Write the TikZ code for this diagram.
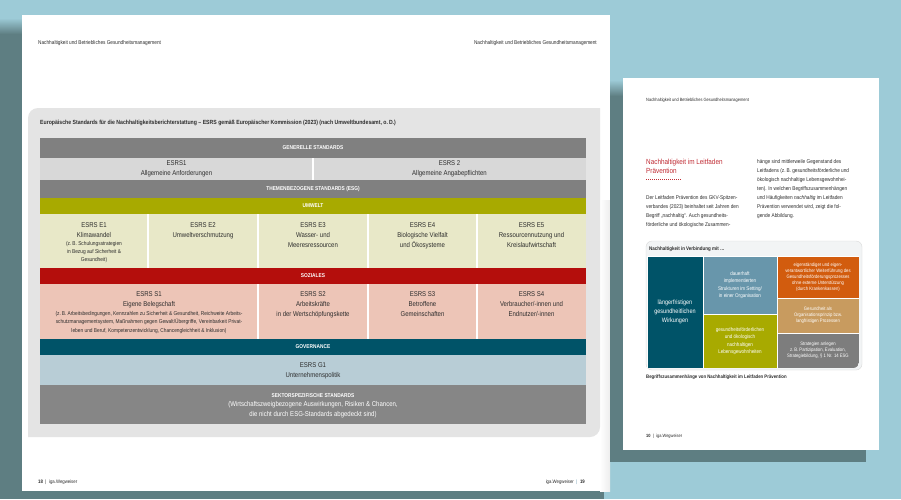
\documentclass[tikz,border=0pt]{standalone}
\usepackage{fontspec}
\setmainfont{Liberation Sans}[FakeStretch=0.86]
\usepackage{tikz}
\usetikzlibrary{positioning}
\definecolor{BgBlue}{RGB}{157,203,215}
\definecolor{ShadowTeal}{RGB}{94,126,130}
\definecolor{PanelGray}{RGB}{228,228,228}
\definecolor{BarGray}{RGB}{128,128,128}
\definecolor{RowGray}{RGB}{216,216,216}
\definecolor{Olive}{RGB}{168,170,0}
\definecolor{Cream}{RGB}{232,232,200}
\definecolor{DarkRed}{RGB}{180,14,12}
\definecolor{Salmon}{RGB}{237,197,183}
\definecolor{Petrol}{RGB}{0,83,104}
\definecolor{PaleBlue}{RGB}{184,205,214}
\definecolor{SectorGray}{RGB}{134,134,134}
\definecolor{TextGray}{RGB}{45,45,45}
\definecolor{SteelBlue}{RGB}{104,150,171}
\definecolor{Orange}{RGB}{210,92,14}
\definecolor{Tan}{RGB}{200,155,95}
\definecolor{MidGray}{RGB}{125,125,125}
\definecolor{HeadRed}{RGB}{192,44,52}
\definecolor{FigPanel}{RGB}{242,244,245}

\begin{document}
\begin{tikzpicture}[x=1pt,y=-1pt,
	cell/.style n args={2}{anchor=north west,inner sep=0pt,outer sep=0pt,minimum width=#1pt,minimum height=#2pt},
	bartext/.style={text=white,font=\bfseries\fontsize{5.6}{7}\selectfont},
	celltext/.style={anchor=north,align=center,inner sep=0pt,text=TextGray,font=\fontsize{7}{10}\selectfont},
	smalltext/.style={celltext,font=\fontsize{5.6}{8.3}\selectfont},
	divider/.style={white,line width=1.6pt},
	figtext/.style={align=center,text=white,font=\fontsize{5.3}{7.4}\selectfont},
	tinytext/.style={align=center,text=white,font=\fontsize{4.9}{6}\selectfont},
	pagetext/.style={anchor=west,inner sep=0pt,text=TextGray,font=\fontsize{5.5}{7}\selectfont}]

		\useasboundingbox (0,0) rectangle (901,499);

		% background, shadows and pages
		\fill[BgBlue] (0,0) rectangle (901,499);
		\shade[top color=BgBlue,bottom color=ShadowTeal] (0,18) rectangle (22,34);
		\fill[ShadowTeal] (0,34) rectangle (604,499);
		\fill[white] (22,15) rectangle (610,491);
		\shade[left color=white,right color=black!7] (600,200) rectangle (610,491);
		\shade[top color=BgBlue,bottom color=ShadowTeal] (610,80) rectangle (623,96);
		\fill[ShadowTeal] (610,96) rectangle (866,462);
		\fill[white] (623,78) rectangle (879,450);

		% page headers
		\node[pagetext] (headL) at (38,43) {Nachhaltigkeit und Betriebliches Gesundheitsmanagement};
		\node[pagetext,anchor=east] (headR) at (597,43) {Nachhaltigkeit und Betriebliches Gesundheitsmanagement};

		% gray panel and title
		\fill[PanelGray] (28,437) [rounded corners=10pt] -- (28,108) [sharp corners] -- (600,108) [rounded corners=10pt] -- (600,437) [sharp corners] -- cycle;
		\node[pagetext,font=\bfseries\fontsize{6}{7}\selectfont] (title) at (40,123) {Europäische Standards für die Nachhaltigkeitsberichterstattung – ESRS gemäß Europäischer Kommission (2023) (nach Umweltbundesamt, o.\,D.)};

		% general standards
		\node[cell={546}{20},fill=BarGray,bartext] (gen) at (40,138) {GENERELLE STANDARDS};
		\node[cell={273}{22},fill=RowGray,align=center,text=TextGray,font=\fontsize{7}{10}\selectfont] (esrs1) at (gen.south west) {ESRS1\\Allgemeine Anforderungen};
		\node[cell={273}{22},fill=RowGray,align=center,text=TextGray,font=\fontsize{7}{10}\selectfont] (esrs2) at (esrs1.north east) {ESRS 2\\Allgemeine Angabepflichten};
		\node[cell={546}{18},fill=BarGray,bartext] (themen) at (esrs1.south west) {THEMENBEZOGENE STANDARDS (ESG)};

		% environment
		\node[cell={546}{16},fill=Olive,bartext] (umwelt) at (themen.south west) {UMWELT};
		\node[cell={108}{54},fill=Cream] (e1) at (umwelt.south west) {};
		\node[cell={110}{54},fill=Cream] (e2) at (e1.north east) {};
		\node[cell={110}{54},fill=Cream] (e3) at (e2.north east) {};
		\node[cell={109}{54},fill=Cream] (e4) at (e3.north east) {};
		\node[cell={109}{54},fill=Cream] (e5) at (e4.north east) {};
		\node[celltext,below=8pt of e1.north] (e1t) {ESRS E1\\Klimawandel};
		\node[smalltext,below=3.5pt of e1t] (e1s) {(z.\,B. Schulungsstrategien\\in Bezug auf Sicherheit \&\\Gesundheit)};
		\node[celltext,below=8pt of e2.north] (e2t) {ESRS E2\\Umweltverschmutzung};
		\node[celltext,below=8pt of e3.north] (e3t) {ESRS E3\\Wasser- und\\Meeresressourcen};
		\node[celltext,below=8pt of e4.north] (e4t) {ESRS E4\\Biologische Vielfalt\\und Ökosysteme};
		\node[celltext,below=8pt of e5.north] (e5t) {ESRS E5\\Ressourcennutzung und\\Kreislaufwirtschaft};

		% social
		\node[cell={546}{16},fill=DarkRed,bartext] (soz) at (e1.south west) {SOZIALES};
		\node[cell={218}{55},fill=Salmon] (s1) at (soz.south west) {};
		\node[cell={110}{55},fill=Salmon] (s2) at (s1.north east) {};
		\node[cell={109}{55},fill=Salmon] (s3) at (s2.north east) {};
		\node[cell={109}{55},fill=Salmon] (s4) at (s3.north east) {};
		\node[celltext,below=7.5pt of s1.north] (s1t) {ESRS S1\\Eigene Belegschaft};
		\node[smalltext,below=3pt of s1t] (s1s) {(z.\,B. Arbeitsbedingungen, Kennzahlen zu Sicherheit \& Gesundheit, Reichweite Arbeits-\\schutzmanagementsystem, Maßnahmen gegen Gewalt/Übergriffe, Vereinbarkeit Privat-\\leben und Beruf, Kompetenzentwicklung, Chancengleichheit \& Inklusion)};
		\node[celltext,below=7.5pt of s2.north] (s2t) {ESRS S2\\Arbeitskräfte\\in der Wertschöpfungskette};
		\node[celltext,below=7.5pt of s3.north] (s3t) {ESRS S3\\Betroffene\\Gemeinschaften};
		\node[celltext,below=7.5pt of s4.north] (s4t) {ESRS S4\\Verbraucher/-innen und\\Endnutzer/-innen};

		% governance and sector
		\node[cell={546}{16},fill=Petrol,bartext] (gov) at (s1.south west) {GOVERNANCE};
		\node[cell={546}{30},fill=PaleBlue] (g1) at (gov.south west) {};
		\node[celltext,below=7.5pt of g1.north] (g1t) {ESRS G1\\Unternehmenspolitik};
		\node[cell={546}{39},fill=SectorGray] (sektor) at (g1.south west) {};
		\node[celltext,bartext,below=8pt of sektor.north] (sekhead) {SEKTORSPEZIFISCHE STANDARDS};
		\node[celltext,text=white,font=\fontsize{7}{9.5}\selectfont,below=4pt of sekhead] (sektxt) {(Wirtschaftszweigbezogene Auswirkungen, Risiken \& Chancen,\\die nicht durch ESG-Standards abgedeckt sind)};

		% white dividers
		\draw[divider] (esrs1.north east) -- (esrs1.south east);
		\foreach \c in {e1,e2,e3,e4,s1,s2,s3}
			\draw[divider] (\c.north east) -- (\c.south east);

		% page footers
		\node[pagetext,font=\fontsize{5}{6}\selectfont] (footL) at (38,482) {\textbf{18}\enspace|\enspace iga.Wegweiser};
		\node[pagetext,anchor=east,font=\fontsize{5}{6}\selectfont] (footR) at (585,482) {iga.Wegweiser\enspace\textcolor{SteelBlue}{|}\enspace\textbf{19}};

		% right page text
		\node[pagetext,font=\fontsize{4.6}{6}\selectfont] (headP) at (646,100) {Nachhaltigkeit und Betriebliches Gesundheitsmanagement};
		\node[anchor=north west,inner sep=0pt,align=left,text=HeadRed,font=\fontsize{7.4}{8.5}\selectfont] (rhead) at (646,159) {Nachhaltigkeit im Leitfaden\\Prävention};
		\coordinate (dotA) at (646,179);
		\coordinate (dotB) at (681,179);
		\draw[HeadRed,line width=0.7pt,dash pattern=on 0.7pt off 1.3pt] (dotA) -- (dotB);
		\node[anchor=north west,inner sep=0pt,align=left,text=TextGray,font=\fontsize{5.5}{9}\selectfont] (colA) at (646,195.5) {Der Leitfaden Prävention des GKV-Spitzen-\\verbandes (2023) beinhaltet seit Jahren den\\Begriff „nachhaltig“. Auch gesundheits-\\förderliche und ökologische Zusammen-};
		\node[anchor=north west,inner sep=0pt,align=left,text=TextGray,font=\fontsize{5.5}{9}\selectfont] (colB) at (757,159.5) {hänge sind mittlerweile Gegenstand des\\Leitfadens (z.\,B. gesundheitsförderliche und\\ökologisch nachhaltige Lebensgewohnhei-\\ten). In welchen Begriffszusammenhängen\\und Häufigkeiten \textit{nachhaltig} im Leitfaden\\Prävention verwendet wird, zeigt die fol-\\gende Abbildung.};

		% figure on the right page
		\node[cell={216}{129},fill=FigPanel,draw=black!15,line width=0.4pt,rounded corners=6pt] (figpanel) at (646,241) {};
		\node[pagetext,font=\bfseries\fontsize{5.2}{6}\selectfont] (figtitle) at (649,249) {Nachhaltigkeit in Verbindung mit \dots};
		\begin{scope}
			\clip (647,256) -- (859,256) [rounded corners=6pt] -- (859,368) [sharp corners] -- (647,368) -- cycle;
			\node[cell={56}{112},fill=Petrol,draw=white,line width=0.6pt,figtext,font=\fontsize{6.4}{9}\selectfont] (wirk) at (647,256) {längerfristigen\\gesundheitlichen\\Wirkungen};
			\node[cell={74}{58},fill=SteelBlue,draw=white,line width=0.6pt,figtext] (struk) at (wirk.north east) {dauerhaft\\implementierten\\Strukturen im Setting/\\in einer Organisation};
			\node[cell={74}{54},fill=Olive,draw=white,line width=0.6pt,figtext] (leben) at (struk.south west) {gesundheitsförderlichen\\und ökologisch\\nachhaltigen\\Lebensgewohnheiten};
			\node[cell={82}{42},fill=Orange,draw=white,line width=0.6pt,tinytext] (weiter) at (struk.north east) {eigenständiger und eigen-\\verantwortlicher Weiterführung des\\Gesundheitsförderungsprozesses\\ohne externe Unterstützung\\(durch Krankenkassen)};
			\node[cell={82}{35},fill=Tan,draw=white,line width=0.6pt,tinytext] (prinzip) at (weiter.south west) {Gesundheit als\\Organisationsprinzip bzw.\\langfristigen Prozessen};
			\node[cell={82}{35},fill=MidGray,draw=white,line width=0.6pt,tinytext] (strat) at (prinzip.south west) {Strategien anlegen\\z.\,B. Partizipation, Evaluation,\\Strategiebildung, § 1 Nr. 14 ESG};
		\end{scope}
		\node[pagetext,font=\bfseries\fontsize{5}{6}\selectfont] (caption) at (646,377) {Begriffszusammenhänge von Nachhaltigkeit im Leitfaden Prävention};
		\node[pagetext,font=\fontsize{4.6}{6}\selectfont] (footP) at (646,436) {\textbf{10}\enspace|\enspace iga.Wegweiser};

	\end{tikzpicture}
\end{document}
